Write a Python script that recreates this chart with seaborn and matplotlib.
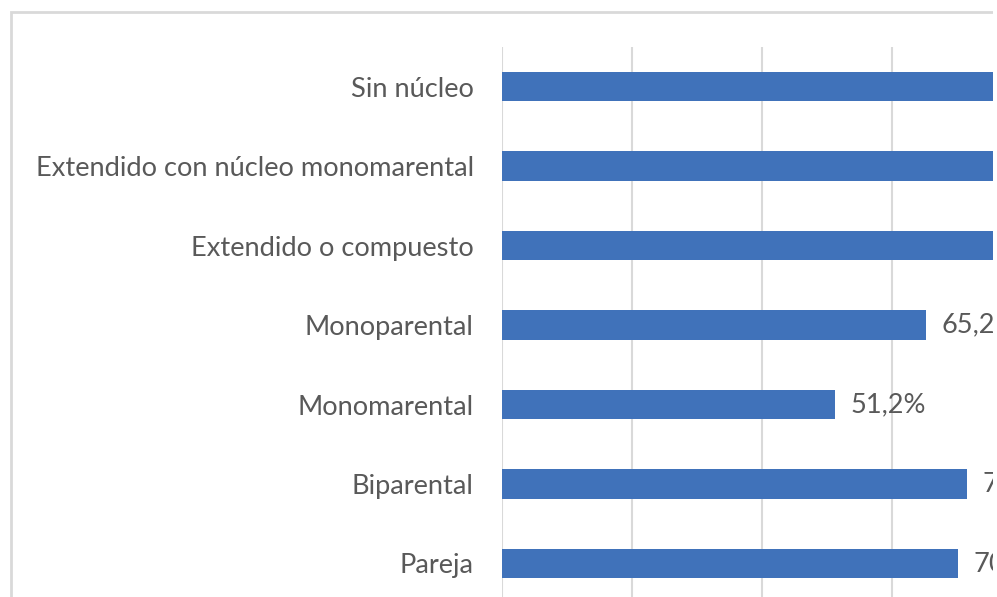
import matplotlib
matplotlib.use("Agg")
import matplotlib.pyplot as plt
import matplotlib.patches as mpatches
import seaborn as sns

# Household type vs. share (%); top three bars run past the cropped edge
categories = ["Sin núcleo", "Extendido con núcleo monomarental", "Extendido o compuesto",
              "Monoparental", "Monomarental", "Biparental", "Pareja"]
values = [80.0, 82.0, 79.0, 65.2, 51.2, 71.5, 70.1]

bar_color = "#4072BA"
grid_color = "#D9D9D9"
text_color = "#595959"

sns.set_style("white")
plt.rcParams['font.family'] = ['Lato', 'DejaVu Sans']

W, H = 997, 597
fig = plt.figure(figsize=(W / 100, H / 100), dpi=100)
fig.patch.set_facecolor("white")

# plot area: left at x=501.5px, 6.515 px per %, category slots of 79.5px
left_px, top_px, slot_px, px_per_pct = 501.5, 46.75, 79.5, 6.515
xmax = 100
ax = fig.add_axes([left_px / W, 1 - (top_px + 7 * slot_px) / H,
                   xmax * px_per_pct / W, 7 * slot_px / H])

sns.barplot(x=values, y=categories, color=bar_color, width=0.365,
            saturation=1, ax=ax, zorder=3, edgecolor="none")
ax.set_xlim(0, xmax)
ax.set_ylim(6.5, -0.5)
ax.set_xticks(range(0, xmax + 1, 20))
ax.set_xticklabels([])
ax.grid(axis="x", color=grid_color, linewidth=1.5, zorder=0)
ax.set_axisbelow(True)
ax.tick_params(axis="both", length=0)
ax.tick_params(axis="y", pad=20, labelsize=19.6, labelcolor=text_color)
ax.set_xlabel("")
ax.set_ylabel("")
for s in ax.spines.values():
    s.set_visible(False)

labels = [f"{v:.1f}%".replace(".", ",") for v in values]
ax.bar_label(ax.containers[0], labels=labels, padding=11, fontsize=19.6,
             color=text_color, clip_on=False)

# chart-area border (only top and left visible in crop)
fig.patches.append(mpatches.Rectangle((10.5 / W, -0.1), 1.2, 1 - 11.5 / H + 0.1,
                                      transform=fig.transFigure, fill=False,
                                      edgecolor=grid_color, linewidth=2, zorder=5))
# white strip at right edge where the screenshot ends
fig.patches.append(mpatches.Rectangle((993 / W, 0), 1, 1, transform=fig.transFigure,
                                      facecolor="white", edgecolor="none", zorder=10))

fig.savefig("out.png", dpi=100)
